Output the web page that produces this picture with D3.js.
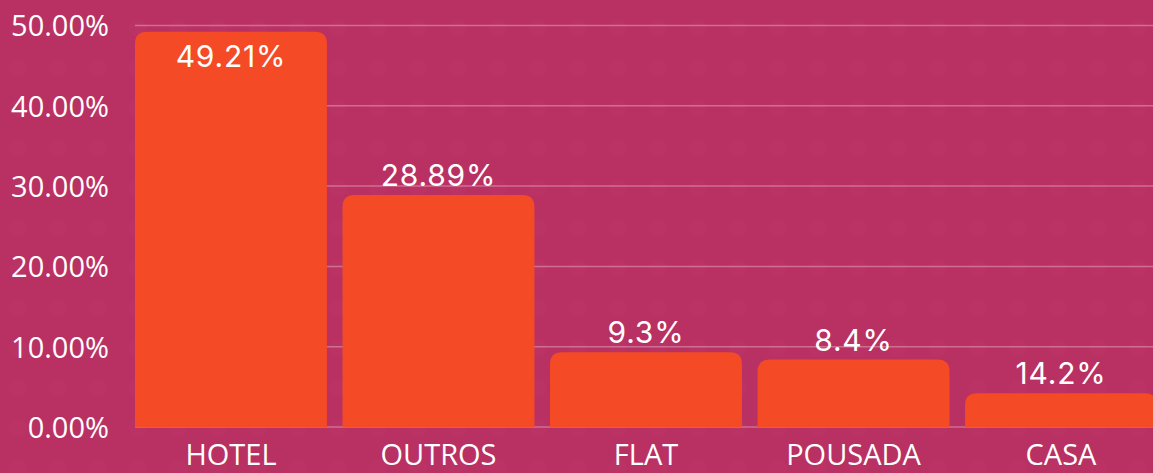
<!DOCTYPE html>
<html>
<head>
<meta charset="utf-8">
<script src="https://cdn.jsdelivr.net/npm/d3@7"></script>
<style>
  html, body { margin: 0; padding: 0; background: #b93062; }
  svg { display: block; }
</style>
</head>
<body>
<div id="chart"></div>
<script>
const categories = ["HOTEL", "OUTROS", "FLAT", "POUSADA", "CASA"];
const values = [49.21, 28.89, 9.3, 8.4, 4.2];
const valueLabels = ["49.21%", "28.89%", "9.3%", "8.4%", "14.2%"];
const yTicks = [0, 10, 20, 30, 40, 50];

const width = 1153, height = 473;
const plot = { left: 135, right: 1157, top: 25.5, bottom: 427 };

const svg = d3.select("#chart").append("svg")
  .attr("width", width)
  .attr("height", height);

// faint dotted background
const pat = svg.append("defs").append("pattern")
  .attr("id", "dots")
  .attr("patternUnits", "userSpaceOnUse")
  .attr("width", 40).attr("height", 40)
  .attr("x", -2).attr("y", 8);
pat.append("rect").attr("width", 40).attr("height", 40).attr("fill", "#b93062");
pat.append("circle").attr("cx", 20).attr("cy", 20).attr("r", 9).attr("fill", "#bb3365");

svg.append("rect")
  .attr("width", width).attr("height", height)
  .attr("fill", "url(#dots)");

const x = d3.scaleBand()
  .domain(categories)
  .range([plot.left, plot.right])
  .paddingInner(0.075)
  .paddingOuter(0);

const y = d3.scaleLinear()
  .domain([0, 50])
  .range([plot.bottom, plot.top]);

// grid lines
svg.append("g")
  .selectAll("line")
  .data(yTicks)
  .join("line")
  .attr("x1", plot.left)
  .attr("x2", width)
  .attr("y1", d => y(d))
  .attr("y2", d => y(d))
  .attr("stroke", "rgba(255,255,255,0.3)")
  .attr("stroke-width", 1.5);

// y axis labels
const yAxis = d3.axisLeft(y)
  .tickValues(yTicks)
  .tickFormat(d => d.toFixed(2) + "%")
  .tickSize(0)
  .tickPadding(26);

svg.append("g")
  .attr("transform", `translate(${plot.left},0)`)
  .call(yAxis)
  .call(g => g.select(".domain").remove())
  .selectAll("text")
  .attr("fill", "#ffffff")
  .attr("font-family", "'Open Sans', sans-serif")
  .attr("font-size", 29)
  .attr("dy", "0.36em");

// x axis labels
const xAxis = d3.axisBottom(x).tickSize(0).tickPadding(12);
svg.append("g")
  .attr("transform", `translate(0,${plot.bottom})`)
  .call(xAxis)
  .call(g => g.select(".domain").remove())
  .selectAll("text")
  .attr("fill", "#ffffff")
  .attr("font-family", "'Open Sans', sans-serif")
  .attr("font-size", 29)
  .attr("dy", "0.9em");

// bars with rounded top corners
const r = 12;
function barPath(d, i) {
  const x0 = x(categories[i]), w = x.bandwidth();
  const y0 = y(d), y1 = y(0);
  return `M${x0},${y1}V${y0 + r}Q${x0},${y0} ${x0 + r},${y0}` +
    `H${x0 + w - r}Q${x0 + w},${y0} ${x0 + w},${y0 + r}V${y1}Z`;
}

svg.append("g")
  .selectAll("path")
  .data(values)
  .join("path")
  .attr("d", barPath)
  .attr("fill", "#f44a26");

// value labels
svg.append("g")
  .selectAll("text")
  .data(values)
  .join("text")
  .attr("x", (d, i) => x(categories[i]) + x.bandwidth() / 2)
  .attr("y", d => y(d) - 9 < 40 ? y(d) + 35 : y(d) - 9)
  .attr("text-anchor", "middle")
  .attr("fill", "#ffffff")
  .attr("font-family", "Inter, sans-serif")
  .attr("font-size", 30)
  .attr("letter-spacing", 0.8)
  .text((d, i) => valueLabels[i]);
</script>
</body>
</html>
